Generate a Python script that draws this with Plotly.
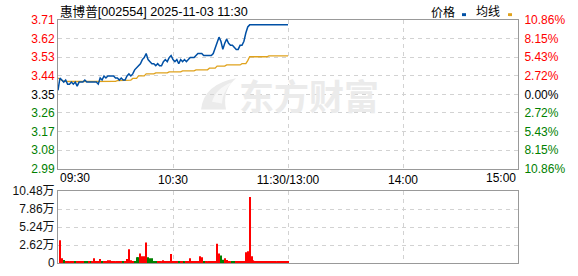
import plotly.graph_objects as go

# ---------------- data ----------------
title_text = "惠博普[002554] 2025-11-03 11:30"
pre_close = 3.35
max_pct = 10.86

# one value per minute, 09:30 .. 11:30 (121 points)
price = [
    3.37, 3.43, 3.42, 3.41, 3.42, 3.40, 3.40, 3.41, 3.40, 3.41,
    3.39, 3.41, 3.41, 3.41, 3.42, 3.41, 3.41, 3.41, 3.41, 3.41,
    3.41, 3.40, 3.43, 3.42, 3.44, 3.43, 3.44, 3.44, 3.44, 3.44,
    3.43, 3.43, 3.42, 3.43, 3.42, 3.42, 3.44, 3.45, 3.44, 3.45,
    3.47, 3.48, 3.49, 3.50, 3.52, 3.53, 3.55, 3.52, 3.51, 3.50,
    3.50, 3.49, 3.50, 3.49, 3.49, 3.51, 3.52, 3.51, 3.53, 3.54,
    3.52, 3.51, 3.52, 3.50, 3.52, 3.51, 3.52, 3.51, 3.52, 3.53,
    3.53, 3.53, 3.54, 3.55, 3.55, 3.55, 3.54, 3.54, 3.54, 3.54,
    3.54, 3.55, 3.58, 3.61, 3.63, 3.61, 3.57, 3.60, 3.62, 3.60,
    3.59, 3.59, 3.58, 3.57, 3.57, 3.59, 3.59, 3.61, 3.65, 3.68,
    3.69, 3.69, 3.69, 3.69, 3.69, 3.69, 3.69, 3.69, 3.69, 3.69,
    3.69, 3.69, 3.69, 3.69, 3.69, 3.69, 3.69, 3.69, 3.69, 3.69,
    3.69,
]

avg = [
    3.430, 3.422, 3.418, 3.414, 3.413, 3.413, 3.413, 3.413, 3.413, 3.413,
    3.413, 3.413, 3.413, 3.413, 3.413, 3.413, 3.413, 3.413, 3.413, 3.413,
    3.413, 3.414, 3.414, 3.414, 3.414, 3.414, 3.414, 3.414, 3.414, 3.414,
    3.414, 3.417, 3.417, 3.417, 3.417, 3.417, 3.420, 3.420, 3.420, 3.428,
    3.428, 3.428, 3.440, 3.440, 3.440, 3.440, 3.450, 3.450, 3.450, 3.450,
    3.450, 3.455, 3.455, 3.455, 3.455, 3.455, 3.455, 3.455, 3.460, 3.460,
    3.460, 3.460, 3.460, 3.460, 3.460, 3.465, 3.465, 3.465, 3.465, 3.465,
    3.465, 3.465, 3.470, 3.470, 3.470, 3.470, 3.470, 3.470, 3.470, 3.478,
    3.478, 3.478, 3.478, 3.488, 3.488, 3.488, 3.488, 3.488, 3.494, 3.494,
    3.494, 3.494, 3.494, 3.494, 3.494, 3.494, 3.500, 3.500, 3.500, 3.515,
    3.534, 3.534, 3.534, 3.534, 3.534, 3.534, 3.534, 3.534, 3.534, 3.534,
    3.538, 3.538, 3.538, 3.538, 3.538, 3.538, 3.538, 3.538, 3.538, 3.538,
    3.538,
]

# volume (万手), one bar per minute 09:31 .. 11:30
volume = [
    3.30, 0.70, 0.45, 0.28, 0.14, 0.14, 0.14, 0.28, 0.14, 0.14,
    0.28, 0.14, 0.14, 0.14, 0.28, 0.14, 0.14, 0.14, 0.70, 0.14,
    0.14, 0.57, 0.14, 0.14, 0.14, 0.40, 0.40, 0.14, 0.14, 0.14,
    0.14, 0.14, 0.14, 0.14, 0.14, 0.57, 2.00, 0.40, 0.14, 0.14,
    0.85, 0.85, 1.40, 1.00, 1.00, 3.00, 0.85, 0.70, 0.70, 0.28,
    0.28, 0.14, 0.14, 0.28, 0.40, 0.14, 0.14, 0.14, 1.30, 0.14,
    0.14, 0.14, 0.14, 0.14, 0.14, 0.14, 0.14, 0.14, 0.70, 0.14,
    0.14, 0.14, 0.28, 1.00, 0.85, 0.28, 0.14, 0.14, 0.14, 0.14,
    0.14, 0.14, 2.80, 1.40, 1.10, 0.47, 0.70, 0.45, 0.14, 0.14,
    0.14, 0.28, 0.14, 0.14, 0.14, 0.14, 0.14, 1.55, 1.70, 9.60,
    1.00, 0.40, 0.14, 0.14, 0.14, 0.14, 0.14, 0.14, 0.14, 0.14,
    0.14, 0.14, 0.14, 0.14, 0.14, 0.14, 0.14, 0.14, 0.14, 0.14,
]
volume_dir = list(
    "rrgrrrrrgr" "rrrggrgrrr" "rrgrrrrrrr" "rrrgrrrrrg"
    "ggrrrrgggg" "grrrrrrrrr" "rrgrrgrrrr" "rrrrrgrrrr"
    "rrrrggrrrr" "ggrrrrrrrr" "rrrrrrrrrr" "rrrrrrrrrr"
)

price_tick_labels = ["3.71", "3.62", "3.53", "3.44", "3.35", "3.26", "3.17", "3.08", "2.99"]
pct_tick_labels = ["10.86%", "8.15%", "5.43%", "2.72%", "0.00%", "2.72%", "5.43%", "8.15%", "10.86%"]
vol_tick_vals = [0, 2.62, 5.24, 7.86, 10.48]
vol_tick_labels = ["0", "2.62万", "5.24万", "7.86万", "10.48万"]
time_tick_vals = [0, 60, 120, 180, 240]
time_tick_labels = ["09:30", "10:30", "11:30/13:00", "14:00", "15:00"]
legend_labels = ["价格", "均线"]
watermark_text = "东方财富"

# ---------------- style ----------------
RED = "#ff0000"
GREEN = "#008000"
BLACK = "#000000"
BLUE = "#0050a5"
GOLD = "#e0a21c"
FRAME = "#999999"
GRID = "#d2d2d2"
WM = "#ebebeb"
FONT = "Liberation Sans, Noto Sans CJK SC, sans-serif"

W, H = 578, 276
ML, MR, MT, MB = 58, 60, 20, 6
PW, PH = W - ML - MR, H - MT - MB


def px2paper_x(px):
    return (px - ML) / PW


def px2paper_y(py):
    return (H - MB - py) / PH


price_dom = [px2paper_y(173), 1.0]
vol_dom = [0.0, px2paper_y(196)]

span = pre_close * max_pct / 100
n = len(price_tick_labels)
price_tick_vals = [pre_close + span * (1 - 2 * i / (n - 1)) for i in range(n)]
pct_tick_vals = [max_pct * (1 - 2 * i / (n - 1)) for i in range(n)]


def col(v):
    if abs(v) < 1e-9:
        return BLACK
    return RED if v > 0 else GREEN


price_ticktext = [f'<span style="color:{col(v - pre_close)}">{t}</span>'
                  for t, v in zip(price_tick_labels, price_tick_vals)]
pct_ticktext = [f'<span style="color:{col(v)}">{t}</span>'
                for t, v in zip(pct_tick_labels, pct_tick_vals)]

minutes = list(range(len(price)))
bar_x = [i + 1 for i in range(len(volume))]
bar_colors = [RED if d == "r" else GREEN for d in volume_dir]
pct_series = [(p - pre_close) / pre_close * 100 for p in price]

fig = go.Figure()
fig.add_trace(go.Scatter(x=minutes, y=avg, mode="lines", line=dict(color=GOLD, width=1.3),
                         xaxis="x", yaxis="y", hoverinfo="skip"))
fig.add_trace(go.Scatter(x=minutes, y=price, mode="lines", line=dict(color=BLUE, width=1.5),
                         xaxis="x", yaxis="y", hoverinfo="skip"))
fig.add_trace(go.Scatter(x=minutes, y=pct_series, mode="lines", line=dict(width=0),
                         opacity=0, xaxis="x", yaxis="y2", hoverinfo="skip"))
fig.add_trace(go.Bar(x=bar_x, y=volume, marker=dict(color=bar_colors, line=dict(width=0)),
                     width=0.6, xaxis="x2", yaxis="y3", hoverinfo="skip"))

axis_common = dict(showline=True, linecolor=FRAME, linewidth=1, zeroline=False,
                   gridcolor=GRID, griddash="4px,4px", gridwidth=1, ticks="")

fig.update_layout(
    width=W, height=H,
    margin=dict(l=ML, r=MR, t=MT, b=MB),
    paper_bgcolor="white", plot_bgcolor="white",
    showlegend=False, hovermode=False,
    font=dict(family=FONT, size=12, color=BLACK),
    xaxis=dict(domain=[0, 1], range=[0, 240], anchor="y", mirror=True,
               tickmode="array", tickvals=time_tick_vals[1:-1], ticktext=time_tick_labels[1:-1],
               showgrid=True, tickfont=dict(size=12, color=BLACK), **axis_common),
    yaxis=dict(domain=price_dom, range=[pre_close - span, pre_close + span], anchor="x",
               tickmode="array", tickvals=price_tick_vals, ticktext=price_ticktext,
               showgrid=True, mirror=False, tickfont=dict(size=12), **axis_common),
    yaxis2=dict(overlaying="y", side="right", anchor="x", range=[-max_pct, max_pct],
                tickmode="array", tickvals=pct_tick_vals, ticktext=pct_ticktext,
                showgrid=False, tickfont=dict(size=12), ticklabelstandoff=3, **axis_common),
    xaxis2=dict(domain=[0, 1], range=[0, 240], anchor="y3", mirror=True,
                tickmode="array", tickvals=time_tick_vals[1:-1], showticklabels=False,
                showgrid=True, **axis_common),
    yaxis3=dict(domain=vol_dom, range=[0, 10.48], anchor="x2", mirror=True,
                tickmode="array", tickvals=vol_tick_vals, ticktext=vol_tick_labels,
                showgrid=True, tickfont=dict(size=12, color="#111111"), **axis_common),
)

annotations = [
    dict(text=title_text, xref="paper", yref="paper", x=0, y=px2paper_y(12),
         xanchor="left", yanchor="middle", showarrow=False,
         font=dict(family=FONT, size=12.6, color=BLACK)),
    dict(text=legend_labels[0], xref="paper", yref="paper", x=px2paper_x(443), y=px2paper_y(12),
         xanchor="center", yanchor="middle", showarrow=False,
         font=dict(family=FONT, size=12, color=BLACK)),
    dict(text=legend_labels[1], xref="paper", yref="paper", x=px2paper_x(488), y=px2paper_y(12),
         xanchor="center", yanchor="middle", showarrow=False,
         font=dict(family=FONT, size=12, color=BLACK)),
    dict(text=time_tick_labels[0], xref="x", yref="paper", x=time_tick_vals[0], y=px2paper_y(183),
         xanchor="left", yanchor="middle", showarrow=False,
         font=dict(family=FONT, size=12, color=BLACK)),
    dict(text=time_tick_labels[-1], xref="x", yref="paper", x=time_tick_vals[-1], y=px2paper_y(183),
         xanchor="right", yanchor="middle", showarrow=False,
         font=dict(family=FONT, size=12, color=BLACK)),
    dict(text=f"<b>{watermark_text}</b>", xref="paper", yref="paper", x=px2paper_x(309), y=px2paper_y(97),
         xanchor="center", yanchor="middle", showarrow=False,
         font=dict(family="Noto Sans CJK SC, sans-serif", size=35, color=WM)),
]
fig.update_layout(annotations=annotations)


def px_path(points, close=True):
    parts = []
    for i, (cmd, coords) in enumerate(points):
        xy = " ".join(f"{px2paper_x(a):.4f},{px2paper_y(b):.4f}" for a, b in coords)
        parts.append(f"{cmd} {xy}")
    return " ".join(parts) + (" Z" if close else "")


# faint logo next to the watermark text
logo_outer = px_path([("M", [(201, 112)]), ("Q", [(204, 86), (236, 80)]),
                      ("Q", [(222, 92), (226, 112)])])
logo_inner = px_path([("M", [(212, 104)]), ("Q", [(216, 90), (232, 84)]),
                      ("Q", [(222, 95), (222, 106)])])

shapes = [
    dict(type="path", xref="paper", yref="paper", layer="below", path=logo_outer,
         fillcolor=WM, line=dict(width=0)),
    dict(type="path", xref="paper", yref="paper", layer="below", path=logo_inner,
         fillcolor="#f7f7f7", line=dict(width=0)),
    dict(type="rect", xref="paper", yref="paper", layer="above",
         x0=px2paper_x(462), x1=px2paper_x(466), y0=px2paper_y(16), y1=px2paper_y(13),
         fillcolor=BLUE, line=dict(width=0)),
    dict(type="rect", xref="paper", yref="paper", layer="above",
         x0=px2paper_x(508), x1=px2paper_x(512), y0=px2paper_y(16), y1=px2paper_y(13),
         fillcolor=GOLD, line=dict(width=0)),
]
fig.update_layout(shapes=shapes)

fig.write_html("out.html")
